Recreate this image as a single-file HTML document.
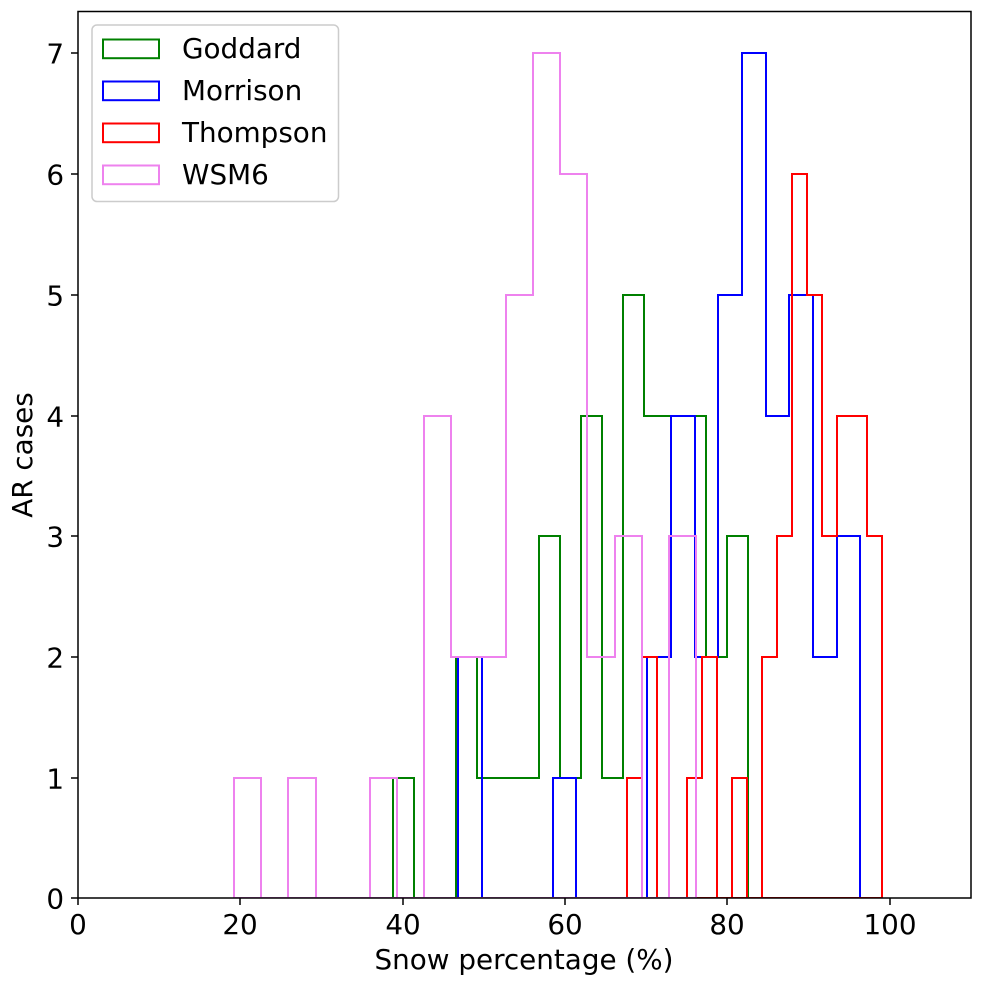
<!DOCTYPE html>
<html lang="en">
<head>
<meta charset="utf-8">
<title>Snow percentage histogram</title>
<style>
html,body{margin:0;padding:0;background:#fff;}
body{width:982px;height:986px;overflow:hidden;}
svg{display:block;}
text{font-family:"DejaVu Sans","Liberation Sans",sans-serif;fill:#000;font-size:27.8px;}
</style>
</head>
<body>
<svg id="chart" xmlns="http://www.w3.org/2000/svg" width="982" height="986" viewBox="0 0 982 986">
  <defs>
    <clipPath id="plot-clip"><rect x="78" y="11" width="893" height="887"/></clipPath>
  </defs>
  <rect x="0" y="0" width="982" height="986" fill="#fff"/>
  <g id="series-layer" clip-path="url(#plot-clip)"></g>
  <rect x="78" y="11.5" width="893" height="886.5" fill="none" stroke="#000" stroke-width="1.5"/>
  <g id="tick-layer"></g>
  <text x="524" y="969" text-anchor="middle">Snow percentage (%)</text>
  <text transform="translate(32,455) rotate(-90)" text-anchor="middle">AR cases</text>
  <g>
    <rect x="92" y="25" width="246.5" height="176.5" rx="5" ry="5" fill="#fff" fill-opacity="0.8" stroke="#ccc" stroke-width="1.5"/>
    <g>
      <rect x="103" y="39.5" width="56" height="18.7" fill="none" stroke="#008000" stroke-width="2"/>
      <text x="182" y="58">Goddard</text>
    </g>
    <g>
      <rect x="103" y="81.5" width="56" height="18.7" fill="none" stroke="#0000ff" stroke-width="2"/>
      <text x="182" y="100">Morrison</text>
    </g>
    <g>
      <rect x="103" y="123.5" width="56" height="18.7" fill="none" stroke="#ff0000" stroke-width="2"/>
      <text x="182" y="142">Thompson</text>
    </g>
    <g>
      <rect x="103" y="165.5" width="56" height="18.7" fill="none" stroke="#ee82ee" stroke-width="2"/>
      <text x="182" y="184">WSM6</text>
    </g>
  </g>
</svg>
<script>
const xTicks = [0, 20, 40, 60, 80, 100];
const yTicks = [0, 1, 2, 3, 4, 5, 6, 7];

const goddardStart = 38.85;
const goddardBinWidth = 2.568;
const goddardCounts = [1, 0, 0, 2, 1, 1, 1, 3, 1, 4, 1, 5, 4, 4, 4, 2, 3];

const morrisonStart = 46.82;
const morrisonBinWidth = 2.914;
const morrisonCounts = [2, 0, 0, 0, 1, 0, 0, 0, 2, 4, 2, 5, 7, 4, 5, 2, 3];

const thompsonStart = 67.6;
const thompsonBinWidth = 1.847;
const thompsonCounts = [1, 2, 0, 0, 1, 2, 0, 1, 0, 2, 3, 6, 5, 3, 4, 4, 3];

const wsm6Start = 19.23;
const wsm6BinWidth = 3.347;
const wsm6Counts = [1, 0, 1, 0, 0, 1, 0, 4, 2, 2, 5, 7, 6, 2, 3, 0, 3];

const SVGNS = 'http://www.w3.org/2000/svg';

function xScale(v) { return Math.round(78 + v * 8.118); }
function yScale(v) { return Math.round(898.35 - v * 120.7); }

function stepPath(start, width, counts) {
  let d = 'M' + xScale(start) + ' ' + yScale(0);
  counts.forEach(function (c, i) {
    const x0 = xScale(start + i * width);
    const x1 = xScale(start + (i + 1) * width);
    const y = yScale(c);
    d += ' L' + x0 + ' ' + y + ' L' + x1 + ' ' + y;
  });
  d += ' L' + xScale(start + counts.length * width) + ' ' + yScale(0) + ' Z';
  return d;
}

const seriesLayer = document.getElementById('series-layer');
const tickLayer = document.getElementById('tick-layer');

function drawSeries(name, color, start, width, counts) {
  const p = document.createElementNS(SVGNS, 'path');
  
  
  p.setAttribute('d', stepPath(start, width, counts));
  p.setAttribute('fill', 'none');
  p.setAttribute('stroke', color);
  p.setAttribute('stroke-width', '2');
  p.setAttribute('stroke-linejoin', 'miter');
  seriesLayer.appendChild(p);
}

drawSeries('series-goddard', '#008000', goddardStart, goddardBinWidth, goddardCounts);
drawSeries('series-morrison', '#0000ff', morrisonStart, morrisonBinWidth, morrisonCounts);
drawSeries('series-thompson', '#ff0000', thompsonStart, thompsonBinWidth, thompsonCounts);
drawSeries('series-wsm6', '#ee82ee', wsm6Start, wsm6BinWidth, wsm6Counts);

function addTick(x1, y1, x2, y2) {
  const l = document.createElementNS(SVGNS, 'line');
  
  
  l.setAttribute('x1', x1);
  l.setAttribute('y1', y1);
  l.setAttribute('x2', x2);
  l.setAttribute('y2', y2);
  l.setAttribute('stroke', '#000');
  l.setAttribute('stroke-width', '1.5');
  tickLayer.appendChild(l);
}

function addLabel(x, y, anchor, value) {
  const t = document.createElementNS(SVGNS, 'text');
  
  
  t.setAttribute('x', x);
  t.setAttribute('y', y);
  t.setAttribute('text-anchor', anchor);
  t.textContent = String(value);
  tickLayer.appendChild(t);
}

xTicks.forEach(function (v) {
  const x = xScale(v);
  addTick(x, 898, x, 905);
  addLabel(x, 934, 'middle', v);
});

yTicks.forEach(function (v) {
  const y = yScale(v);
  addTick(78, y, 71, y);
  addLabel(64, y + 10.5, 'end', v);
});
</script>
</body>
</html>
